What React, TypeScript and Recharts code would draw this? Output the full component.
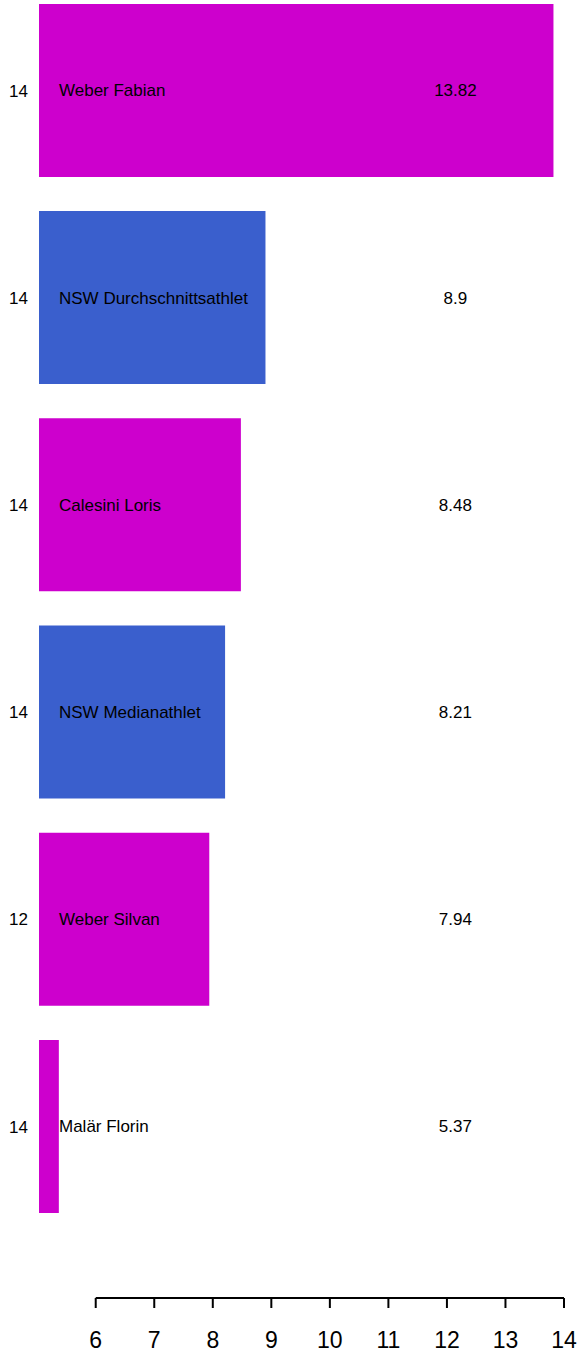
import React from 'react';
import { BarChart, Bar, XAxis, YAxis, Cell, LabelList, ReferenceLine } from 'recharts';

const names = ['Weber Fabian', 'NSW Durchschnittsathlet', 'Calesini Loris', 'NSW Medianathlet', 'Weber Silvan', 'Malär Florin'];
const values = [13.82, 8.9, 8.48, 8.21, 7.94, 5.37];
const ages = [14, 14, 14, 14, 12, 14];
const isNsw = [false, true, false, true, false, false];
const xTicks = [6, 7, 8, 9, 10, 11, 12, 13, 14];

const MAGENTA = '#CD00CD';
const BLUE = '#3A5FCD';
const FONT = '"Liberation Sans", Arial, Helvetica, sans-serif';

const X_MIN = 5.031;
const X_MAX = 14;
const Y_TOP = 0.5632;
const Y_BOTTOM = 6.8277;
const VALUE_LABEL_AT = 12.145;

const data = names.map((name, i) => ({ idx: i + 1, name, value: values[i], age: ages[i], nsw: isNsw[i] }));

const renderName = (props: any) => {
  const { x, y, height, value } = props;
  return (
    <text x={x + 20} y={y + height / 2 + 6} fontSize={17} fontFamily={FONT} fill="#000" textAnchor="start">
      {value}
    </text>
  );
};

const renderValue = (props: any) => {
  const { x, y, width, height, value } = props;
  const pxPerUnit = width / (value - X_MIN);
  const cx = x + (VALUE_LABEL_AT - X_MIN) * pxPerUnit;
  return (
    <text x={cx} y={y + height / 2 + 6} fontSize={17} fontFamily={FONT} fill="#000" textAnchor="middle">
      {value}
    </text>
  );
};

export default function App() {
  return (
    <div style={{ position: 'absolute', top: 0, left: 0, width: 582, height: 1356, overflow: 'hidden', background: '#fff' }}>
      <BarChart
        width={582}
        height={1356}
        data={data}
        layout="vertical"
        margin={{ top: 0, right: 18, bottom: 0, left: 0 }}
      >
        <XAxis
          type="number"
          dataKey="value"
          domain={[X_MIN, X_MAX]}
          allowDataOverflow
          ticks={xTicks}
          axisLine={false}
          tickLine={{ stroke: '#000', strokeWidth: 2 }}
          tickSize={10}
          tickMargin={24}
          height={58}
          tick={{ fill: '#000', fontSize: 23, fontFamily: FONT }}
        />
        <YAxis
          type="number"
          dataKey="idx"
          domain={[Y_TOP, Y_BOTTOM]}
          allowDataOverflow
          ticks={[1, 2, 3, 4, 5, 6]}
          tickFormatter={(v: number) => String(ages[v - 1])}
          axisLine={false}
          tickLine={false}
          tickSize={0}
          tickMargin={11}
          width={39}
          tick={{ fill: '#000', fontSize: 17, fontFamily: FONT }}
        />
        <Bar dataKey="value" barSize={173} isAnimationActive={false}>
          {data.map((d, i) => (
            <Cell key={i} fill={d.nsw ? BLUE : MAGENTA} />
          ))}
          <LabelList dataKey="name" content={renderName} />
          <LabelList dataKey="value" content={renderValue} />
        </Bar>
        <ReferenceLine
          segment={[{ x: 6, y: Y_BOTTOM }, { x: 14, y: Y_BOTTOM }]}
          stroke="#000"
          strokeWidth={2}
          ifOverflow="visible"
        />
      </BarChart>
    </div>
  );
}
